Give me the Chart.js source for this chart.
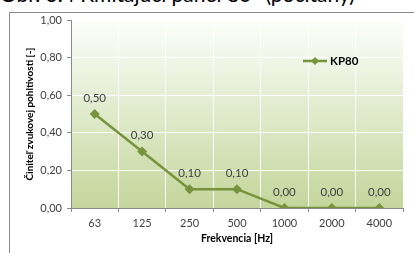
<!DOCTYPE html>
<html>
<head>
<meta charset="utf-8">
<script src="https://cdn.jsdelivr.net/npm/chart.js@4"></script>
<style>
  html, body { margin: 0; padding: 0; background: #fff; overflow: hidden; }
  #cap { position: absolute; left: 0; top: -19px; font: 21px Lato, sans-serif; color: #000; white-space: nowrap; }
  #frame { position: absolute; left: 9px; top: 12px; width: 420px; height: 260px; border-left: 1px solid #8a8a8a; border-top: 1px solid #8a8a8a; }
  #graf { position: absolute; left: 0; top: 0; }
</style>
</head>
<body>
<div id="cap">Obr. 3.4 Kmitajúci panel 80° (počítaný)</div>
<div id="frame"></div>
<canvas id="graf" width="414" height="253"></canvas>
<script>
// frekvencie a hodnoty
var frekvencie = ['63', '125', '250', '500', '1000', '2000', '4000'];
var hodnotyKP80 = [0.50, 0.30, 0.10, 0.10, 0.00, 0.00, 0.00];
var nazovSerie = 'KP80';

var zelena = '#77933c';
var sedaText = '#404040';

function ciarka(v) {
    return v.toFixed(2).replace('.', ',');
}

// pozadie s prechodom
var pozadie = {
    id: 'pozadie',
    beforeDraw: function (chart) {
        var a = chart.chartArea, ctx = chart.ctx;
        var g = ctx.createLinearGradient(0, a.top, 0, a.bottom);
        g.addColorStop(0, '#fdfefb');
        g.addColorStop(1, '#c3d69b');
        ctx.save();
        ctx.fillStyle = g;
        ctx.fillRect(a.left, a.top, a.right - a.left, a.bottom - a.top);
        ctx.restore();
    }
};

// popisky hodnot nad bodmi
var popisky = {
    id: 'popisky',
    afterDatasetsDraw: function (chart) {
        var ctx = chart.ctx;
        var meta = chart.getDatasetMeta(0);
        ctx.save();
        ctx.font = '11.5px Lato, sans-serif';
        ctx.fillStyle = sedaText;
        ctx.textAlign = 'center';
        ctx.textBaseline = 'middle';
        meta.data.forEach(function (bod, i) {
            ctx.fillText(ciarka(hodnotyKP80[i]), bod.x, bod.y - 16);
        });
        ctx.restore();
    }
};

// legenda vo vnutri grafu
var legenda = {
    id: 'legenda',
    afterDraw: function (chart) {
        var ctx = chart.ctx;
        var x = 303, y = 61;
        ctx.save();
        ctx.strokeStyle = zelena;
        ctx.lineWidth = 2.5;
        ctx.beginPath();
        ctx.moveTo(x, y);
        ctx.lineTo(x + 24, y);
        ctx.stroke();
        ctx.fillStyle = zelena;
        ctx.beginPath();
        ctx.moveTo(x + 12, y - 4);
        ctx.lineTo(x + 16, y);
        ctx.lineTo(x + 12, y + 4);
        ctx.lineTo(x + 8, y);
        ctx.closePath();
        ctx.fill();
        ctx.font = 'bold 11.5px Lato, sans-serif';
        ctx.fillStyle = '#000';
        ctx.textBaseline = 'middle';
        ctx.fillText(nazovSerie, x + 27, y);
        ctx.restore();
    }
};

var ctx = document.getElementById('graf');
var chart = new Chart(ctx, {
    type: 'line',
    data: {
        labels: frekvencie,
        datasets: [{
            label: nazovSerie,
            data: hodnotyKP80,
            borderColor: zelena,
            backgroundColor: zelena,
            borderWidth: 2.5,
            pointStyle: 'rectRot',
            pointRadius: 5,
            pointBorderWidth: 0,
            tension: 0
        }]
    },
    options: {
        responsive: false,
        animation: false,
        devicePixelRatio: 1,
        layout: { padding: { left: 24, top: 20, right: 11, bottom: 8 } },
        plugins: { legend: { display: false }, tooltip: { enabled: false } },
        scales: {
            x: {
                offset: true,
                grid: { offset: true, color: '#ffffff', tickColor: '#8a8a8a', tickLength: 4 },
                border: { color: '#8a8a8a' },
                ticks: { color: sedaText, font: { family: 'Lato', size: 11 }, padding: 5 },
                title: { display: true, text: 'Frekvencia [Hz]', color: '#000', font: { family: 'Lato', size: 10.5, weight: 'bold' }, padding: { top: 2, bottom: 0 } },
                afterFit: function (s) { s.height = 37; }
            },
            y: {
                min: 0,
                max: 1,
                grid: { color: '#ffffff', tickColor: '#8a8a8a', tickLength: 4 },
                border: { color: '#8a8a8a' },
                ticks: { stepSize: 0.2, color: sedaText, font: { family: 'Lato', size: 11 }, padding: 5,
                    callback: function (v) { return ciarka(v); } },
                title: { display: true, text: 'Činiteľ zvukovej pohltivosti [-]', color: '#000', font: { family: 'Lato', size: 10, weight: 'bold' }, padding: 0 },
                afterFit: function (s) { s.width = 47; }
            }
        }
    },
    plugins: [pozadie, popisky, legenda]
});
</script>
</body>
</html>
